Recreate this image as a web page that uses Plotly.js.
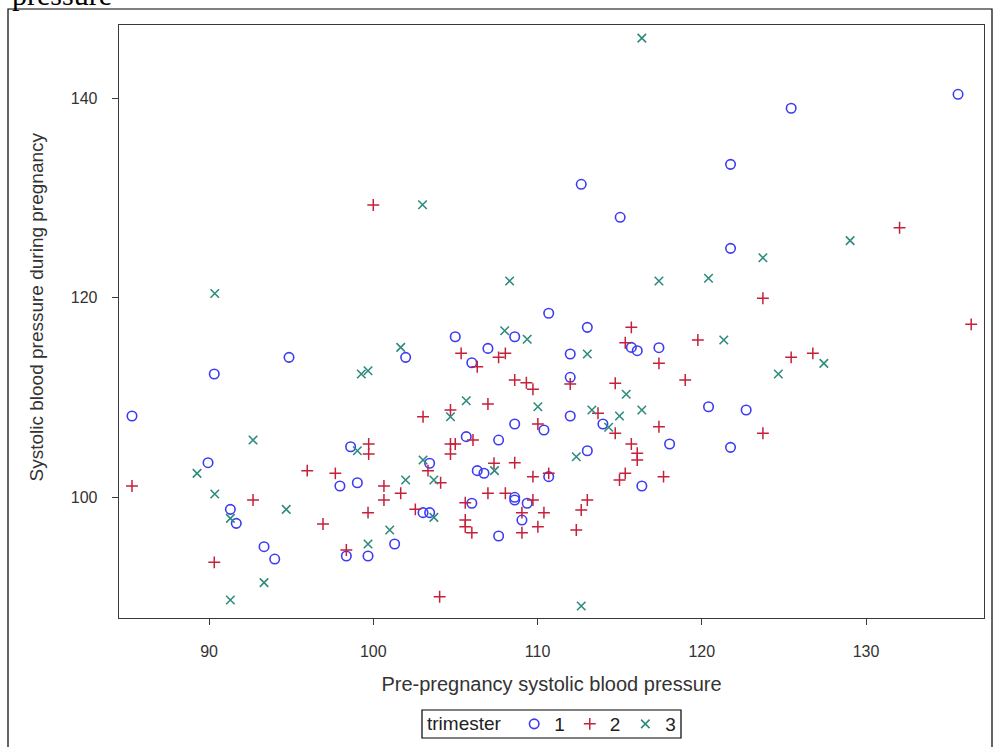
<!DOCTYPE html>
<html>
<head>
<meta charset="utf-8">
<script src="https://cdn.plot.ly/plotly-3.0.1.min.js"></script>
<style>
html, body { margin: 0; padding: 0; background: #fff; }
#chart { width: 993px; height: 747px; }
</style>
</head>
<body>
<div id="chart"></div>
<script>
// Trimester 1 (circles)
var t1x = [110.68,113.03,108.61,104.99,101.97,106.98,106.0,115.71,116.07,117.39,111.99,111.99,94.87,90.32,85.31,89.94,91.3,91.66,93.35,94.0,112.66,115.03,125.44,135.6,121.75,121.75,108.61,105.66,107.63,98.62,103.43,106.33,106.74,97.97,99.03,108.61,108.61,106.0,103.03,103.43,107.63,101.3,98.36,99.68,111.99,113.98,110.39,120.41,118.04,113.03,110.68,116.35,109.37,109.05,122.7,121.75];
var t1y = [118.42,117.01,116.07,116.07,114.0,114.9,113.46,115.0,114.67,114.97,114.34,112.0,114.0,112.33,108.12,103.44,98.76,97.36,95.02,93.78,131.35,128.04,138.97,140.37,133.35,124.93,107.32,106.05,105.71,105.04,103.38,102.64,102.38,101.1,101.43,99.97,99.7,99.37,98.43,98.43,96.09,95.29,94.09,94.09,108.12,107.32,106.72,109.05,105.31,104.64,102.04,101.1,99.37,97.69,108.72,104.98];
// Trimester 2 (plus)
var t2x = [100.0,132.04,123.72,95.98,85.31,92.68,90.32,105.35,106.33,107.63,108.04,108.61,106.98,104.7,103.03,106.07,104.7,104.99,104.7,99.72,99.72,103.33,104.1,107.35,108.61,97.69,100.65,101.67,100.65,106.98,108.04,105.6,99.68,96.94,102.56,105.6,105.6,106.0,98.36,104.04,115.71,115.34,119.76,117.39,118.99,111.99,114.73,109.32,109.72,113.68,114.73,110.02,117.39,115.71,116.07,116.07,109.72,110.68,115.34,114.99,117.67,109.72,109.05,110.39,110.02,109.05,113.03,112.66,112.36,136.4,125.44,126.76,123.72];
var t2y = [129.27,127.0,119.92,102.64,101.1,99.7,93.45,114.4,113.06,114.0,114.4,111.73,109.32,108.72,108.05,105.71,105.31,105.31,104.31,105.31,104.31,102.64,101.43,103.38,103.44,102.37,101.1,100.37,99.7,100.37,100.37,99.43,98.43,97.29,98.76,97.69,97.02,96.42,94.69,90.0,117.01,115.47,115.74,113.4,111.73,111.33,111.4,111.46,110.8,108.39,106.39,107.32,107.05,105.31,104.38,103.71,102.04,102.37,102.37,101.7,102.04,99.7,98.43,98.43,97.02,96.42,99.7,98.7,96.69,117.31,114.0,114.4,106.39];
// Trimester 3 (x)
var t3x = [90.35,103.0,116.35,108.3,117.39,120.41,123.72,129.03,92.68,89.27,90.35,91.3,94.7,93.35,91.3,108.0,101.67,99.27,99.68,105.66,104.7,99.03,103.03,103.69,107.38,101.97,103.69,101.0,99.68,112.66,109.37,113.03,115.4,116.35,110.02,113.31,114.99,114.33,112.36,121.34,127.43,124.66];
var t3y = [120.4,129.3,146.0,121.65,121.65,121.93,123.99,125.7,105.71,102.37,100.3,97.86,98.76,91.41,89.67,116.67,115.0,112.33,112.66,109.65,108.05,104.64,103.71,101.7,102.64,101.7,97.96,96.69,95.29,89.07,115.81,114.34,110.3,108.72,109.05,108.72,108.12,106.99,104.04,115.74,113.4,112.33];

var groupNames = ['1', '2', '3'];
var xTicks = [90, 100, 110, 120, 130];
var yTicks = [100, 120, 140];

var FONT = 'Liberation Sans, Arial, sans-serif';
var traces = [
  {x: t1x, y: t1y, name: groupNames[0], type: 'scatter', mode: 'markers',
   marker: {symbol: 'circle-open', size: 9.5, color: '#3c3cf2', line: {width: 1.6, color: '#3c3cf2'}}},
  {x: t2x, y: t2y, name: groupNames[1], type: 'scatter', mode: 'markers',
   marker: {symbol: 'cross-thin-open', size: 8.5, color: '#c4213a', line: {width: 1.5, color: '#c4213a'}}},
  {x: t3x, y: t3y, name: groupNames[2], type: 'scatter', mode: 'markers',
   marker: {symbol: 'x-thin-open', size: 8.5, color: '#2e8b7d', line: {width: 1.6, color: '#2e8b7d'}}}
];

var layout = {
  width: 993, height: 747,
  margin: {l: 119, r: 9, t: 25, b: 129, pad: 0, autoexpand: false},
  paper_bgcolor: '#ffffff', plot_bgcolor: '#ffffff',
  font: {family: FONT, color: '#333333'},
  showlegend: true,
  xaxis: {
    range: [84.52, 137.18], tickvals: xTicks, ticktext: xTicks.map(String),
    showgrid: false, zeroline: false, showline: true, mirror: true,
    linecolor: '#3a3a3a', linewidth: 1.3,
    ticks: 'outside', ticklen: 6, tickcolor: '#3a3a3a', tickwidth: 1,
    ticklabelstandoff: 12,
    tickfont: {size: 16, color: '#333333', family: FONT},
    title: {text: 'Pre-pregnancy systolic blood pressure', font: {size: 20, color: '#333333', family: FONT}, standoff: 18.5}
  },
  yaxis: {
    range: [87.87, 147.32], tickvals: yTicks, ticktext: yTicks.map(String),
    showgrid: false, zeroline: false, showline: true, mirror: true,
    linecolor: '#3a3a3a', linewidth: 1.3,
    ticks: 'outside', ticklen: 6, tickcolor: '#3a3a3a', tickwidth: 1,
    ticklabelstandoff: 11,
    tickfont: {size: 16, color: '#333333', family: FONT}
  },
  legend: {
    orientation: 'h', xref: 'container', yref: 'container',
    x: 553 / 993, xanchor: 'center', y: 1 - 724 / 747, yanchor: 'middle',
    borderwidth: 0, bgcolor: 'rgba(0,0,0,0)',
    font: {size: 19, color: '#222222', family: FONT},
    title: {text: 'trimester ', font: {size: 19, color: '#222222', family: FONT}},
    itemwidth: 30, tracegroupgap: 0
  },
  shapes: [
    {type: 'rect', xref: 'paper', yref: 'paper',
     x0: (8 - 119) / 865, x1: (992 - 119) / 865, y0: (618 - 9) / 593, y1: (618 - 770) / 593,
     line: {color: '#000000', width: 1.2}, fillcolor: 'rgba(0,0,0,0)', layer: 'below'},
    {type: 'rect', xref: 'paper', yref: 'paper',
     x0: (422 - 119) / 865, x1: (681 - 119) / 865, y0: (618 - 710) / 593, y1: (618 - 738) / 593,
     line: {color: '#000000', width: 1.2}, fillcolor: 'rgba(0,0,0,0)', layer: 'below'}
  ],
  annotations: [
    {text: 'pressure', xref: 'paper', yref: 'paper', x: (10 - 119) / 865, xanchor: 'left',
     y: (618 + 6) / 593, yanchor: 'middle', showarrow: false,
     font: {family: 'Liberation Serif, Times New Roman, serif', size: 30, color: '#000000'}},
    {text: 'Systolic blood pressure during pregnancy', xref: 'paper', yref: 'paper',
     x: (36 - 119) / 865, xanchor: 'center', y: (618 - 307.5) / 593, yanchor: 'middle',
     textangle: -90, showarrow: false,
     font: {size: 19, color: '#333333', family: FONT}}
  ]
};

Plotly.newPlot('chart', traces, layout, {displayModeBar: false, staticPlot: true});
</script>
</body>
</html>
